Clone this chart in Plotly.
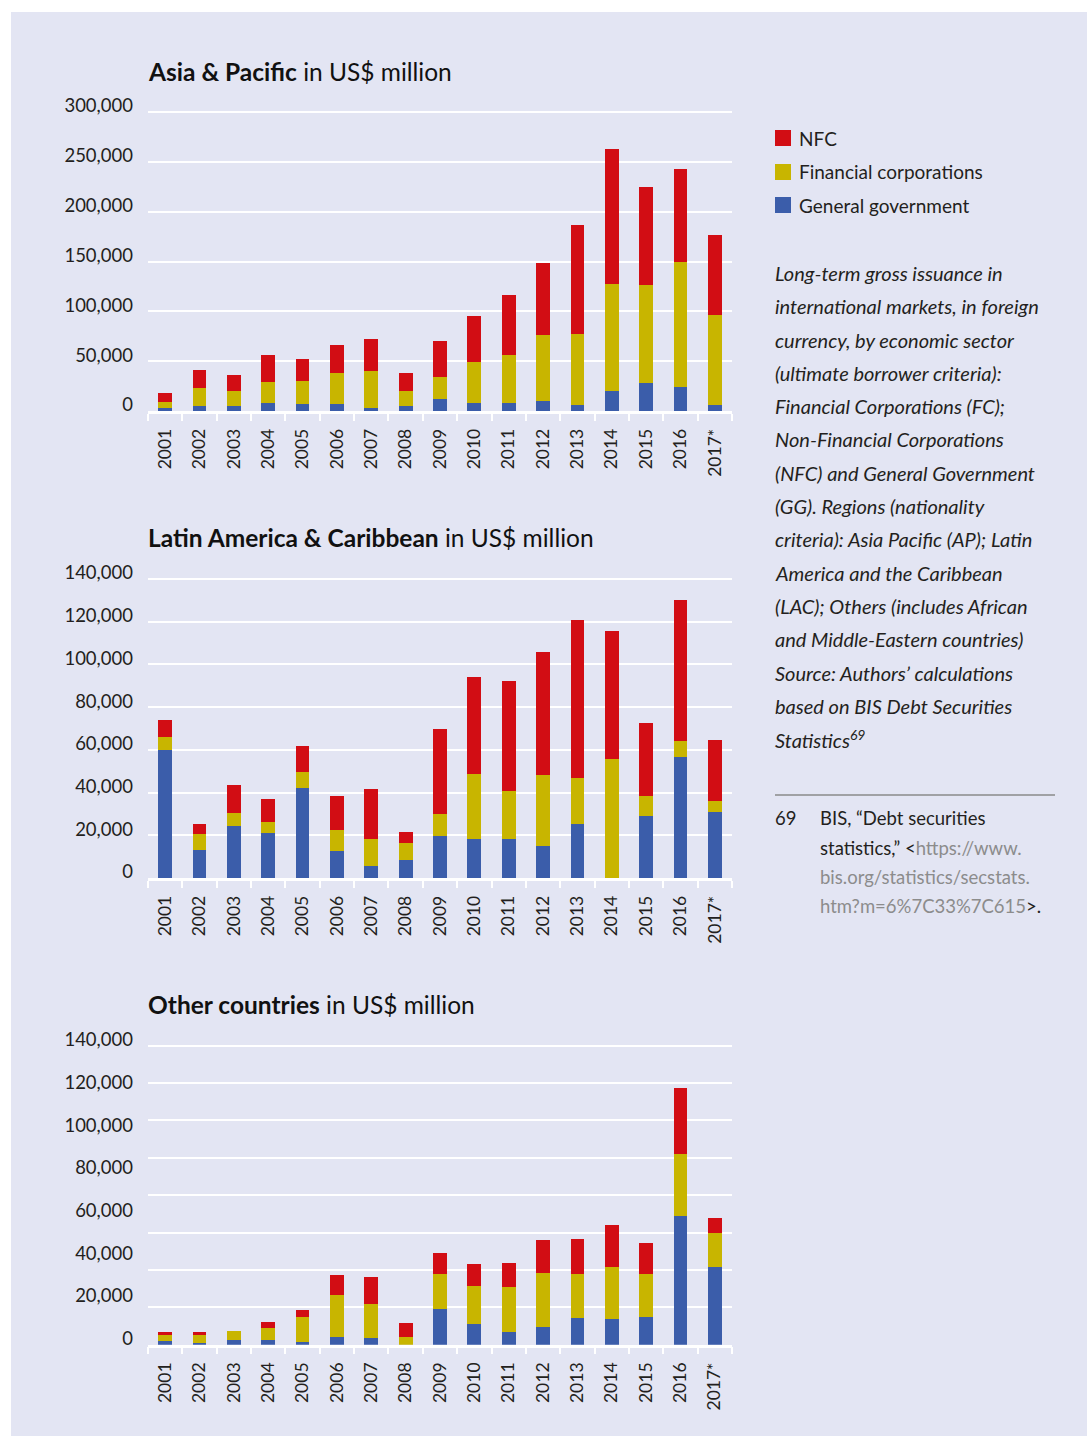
import plotly.graph_objects as go

W, H = 1087, 1436

years = ["2001", "2002", "2003", "2004", "2005", "2006", "2007", "2008", "2009",
         "2010", "2011", "2012", "2013", "2014", "2015", "2016", "2017*"]

series_names = ["General government", "Financial corporations", "NFC"]
series_colors = ["#3B5DAA", "#C8B500", "#D20D14"]

# Asia & Pacific (US$ million)
ap_gg = [3000, 5000, 5000, 8000, 7000, 7000, 3000, 5000, 12000, 8000, 8000, 10000, 6000, 20000, 28000, 24000, 6000]
ap_fc = [6000, 18000, 15000, 21000, 23000, 31000, 37000, 15000, 22000, 41000, 48000, 66000, 71000, 107000, 98000, 126000, 90000]
ap_nfc = [9000, 18000, 16000, 27000, 22000, 28000, 32000, 18000, 36000, 46000, 60000, 72000, 110000, 136000, 99000, 93000, 81000]

# Latin America & Caribbean (US$ million)
lac_gg = [60000, 13250, 24500, 21200, 42250, 12800, 5800, 8600, 19800, 18400, 18400, 15100, 25400, 0, 29150, 56750, 31000]
lac_fc = [6100, 7450, 6100, 5150, 7450, 9800, 12600, 7900, 10300, 30400, 22400, 33200, 21500, 55800, 9350, 7450, 5200]
lac_nfc = [7900, 4700, 13050, 10750, 12200, 15900, 23400, 5200, 39750, 45400, 51500, 57600, 73900, 59900, 34150, 66000, 28500]

# Other countries (US$ million)
oth_gg = [2000, 900, 2500, 2500, 1400, 4100, 3600, 0, 19100, 11100, 6800, 9500, 14300, 13700, 14800, 68900, 41600]
oth_fc = [3200, 4300, 4800, 6400, 13400, 22500, 18200, 4100, 18700, 20300, 24100, 28900, 23500, 27700, 23000, 33100, 18200]
oth_nfc = [1600, 1600, 0, 3200, 3750, 10700, 14400, 7500, 11300, 11800, 12800, 17600, 18700, 22400, 16600, 35400, 8000]

# axis tick labels / gridlines
ap_ticks = [0, 50000, 100000, 150000, 200000, 250000, 300000]
lac_ticks = [0, 20000, 40000, 60000, 80000, 100000, 120000, 140000]
oth_tick_labels = [0, 20000, 40000, 60000, 80000, 100000, 120000, 140000]
oth_grid = [0, 20000, 40000, 60000, 80000, 100000, 120000, 140000, 160000]

titles = ["Asia & Pacific", "Latin America & Caribbean", "Other countries"]

note_lines = [
    "Long-term gross issuance in",
    "international markets, in foreign",
    "currency, by economic sector",
    "(ultimate borrower criteria):",
    "Financial Corporations (FC);",
    "Non-Financial Corporations",
    "(NFC) and General Government",
    "(GG). Regions (nationality",
    "criteria): Asia Pacific (AP); Latin",
    "America and the Caribbean",
    "(LAC); Others (includes African",
    "and Middle-Eastern countries)",
    "Source: Authors\u2019 calculations",
    "based on BIS Debt Securities",
    "Statistics<sup>69</sup>",
]

FONT = "Lato"
TXT = "#231F20"
BG = "#E3E5F3"


def px_x(x):
    return x / W


def px_y(y):
    return 1 - y / H


fig = go.Figure()

panels = [
    ("x", "y", [ap_gg, ap_fc, ap_nfc]),
    ("x2", "y2", [lac_gg, lac_fc, lac_nfc]),
    ("x3", "y3", [oth_gg, oth_fc, oth_nfc]),
]
for xa, ya, data in panels:
    for name, color, vals in zip(series_names, series_colors, data):
        fig.add_trace(go.Bar(x=years, y=vals, name=name, marker=dict(color=color, line=dict(width=0)),
                             xaxis=xa, yaxis=ya, showlegend=False, hoverinfo="x+y+name"))

xdom = [px_x(148), px_x(732)]
PAD = 3  # extra pixels above the top gridline so it is drawn


def yspec(base_px, top_px, top_val):
    dom = [px_y(base_px), px_y(top_px - PAD)]
    rng = [0, top_val * (base_px - (top_px - PAD)) / (base_px - top_px)]
    return dom, rng


xcommon = dict(type="category", domain=xdom, showgrid=False, showline=True, linecolor="white",
               linewidth=2.5, ticks="outside", tickson="boundaries", ticklen=7, tickwidth=2,
               tickcolor="white", tickangle=-90, tickfont=dict(family=FONT, size=17.5, color=TXT),
               ticklabelstandoff=8, zeroline=False, fixedrange=True)
ycommon = dict(showline=False, zeroline=False, ticks="", tickfont=dict(family=FONT, size=18.5, color=TXT),
               gridcolor="white", gridwidth=2, ticklabelshift=-6, ticklabelstandoff=14, fixedrange=True)

layout = dict(
    width=W, height=H, margin=dict(l=0, r=0, t=0, b=0, autoexpand=False),
    paper_bgcolor="white", plot_bgcolor="rgba(0,0,0,0)",
    barmode="stack", bargap=0.6, showlegend=False,
    font=dict(family=FONT, color=TXT),
)
layout["xaxis"] = dict(xcommon, anchor="y")
layout["xaxis2"] = dict(xcommon, anchor="y2")
layout["xaxis3"] = dict(xcommon, anchor="y3")

d1, r1 = yspec(411, 112, 300000)
d2, r2 = yspec(878, 579, 140000)
d3, r3 = yspec(1344.7, 1045.7, 160000)
layout["yaxis"] = dict(ycommon, domain=d1, anchor="x", range=r1,
                       tickvals=ap_ticks, ticktext=[f"{v:,}" for v in ap_ticks], showgrid=True)
layout["yaxis2"] = dict(ycommon, domain=d2, anchor="x2", range=r2,
                        tickvals=lac_ticks, ticktext=[f"{v:,}" for v in lac_ticks], showgrid=True)
# Other countries: gridlines every 20,000 up to 160,000; printed labels 0..140,000 spread over same height
layout["yaxis3"] = dict(ycommon, domain=d3, anchor="x3", range=r3,
                        tickvals=[v * 160000 / 140000 for v in oth_tick_labels],
                        ticktext=[f"{v:,}" for v in oth_tick_labels], showgrid=False,
                        minor=dict(tickvals=oth_grid, showgrid=True, gridcolor="white", gridwidth=2, ticks=""))

shapes = [
    dict(type="rect", xref="paper", yref="paper", x0=px_x(11), x1=1, y0=0, y1=px_y(12),
         fillcolor=BG, line=dict(width=0), layer="below"),
    dict(type="line", xref="paper", yref="paper", x0=px_x(775), x1=px_x(1055), y0=px_y(795), y1=px_y(795),
         line=dict(color="#8A8A8A", width=1.5)),
]

annotations = []
title_y = [71, 537, 1004]
for bold, ty in zip(titles, title_y):
    annotations.append(dict(xref="paper", yref="paper", x=px_x(146), y=px_y(ty), xanchor="left", yanchor="middle",
                            text=f"<b>{bold}</b> in US$ million", showarrow=False,
                            font=dict(family=FONT, size=24.5, color="#111111")))

# legend (top to bottom: NFC, FC, GG)
leg_y = [138, 172, 205]
for name, color, ly in zip(series_names[::-1], series_colors[::-1], leg_y):
    shapes.append(dict(type="rect", xref="paper", yref="paper", x0=px_x(775), x1=px_x(791),
                       y0=px_y(ly + 8), y1=px_y(ly - 8), fillcolor=color, line=dict(width=0)))
    annotations.append(dict(xref="paper", yref="paper", x=px_x(797), y=px_y(ly), xanchor="left", yanchor="middle",
                            text=name, showarrow=False, font=dict(family=FONT, size=19, color=TXT)))

for i, line in enumerate(note_lines):
    annotations.append(dict(xref="paper", yref="paper", x=px_x(773), y=px_y(273 + 33.3 * i), xanchor="left",
                            yanchor="middle", text=f"<i>{line}</i>", showarrow=False,
                            font=dict(family=FONT, size=20, color=TXT)))

GRAY = "#8C8C8C"
foot = [
    "BIS, \u201cDebt securities",
    f"statistics,\u201d &lt;<span style='color:{GRAY}'>https://www.</span>",
    f"<span style='color:{GRAY}'>bis.org/statistics/secstats.</span>",
    f"<span style='color:{GRAY}'>htm?m=6%7C33%7C615</span>&gt;.",
]
foot_y = [818, 848, 877, 906]
annotations.append(dict(xref="paper", yref="paper", x=px_x(773), y=px_y(818), xanchor="left", yanchor="middle",
                        text="69", showarrow=False, font=dict(family=FONT, size=18.5, color=TXT)))
for t, fy in zip(foot, foot_y):
    annotations.append(dict(xref="paper", yref="paper", x=px_x(818), y=px_y(fy), xanchor="left", yanchor="middle",
                            text=t, showarrow=False, font=dict(family=FONT, size=18.5, color=TXT)))

layout["shapes"] = shapes
layout["annotations"] = annotations
fig.update_layout(**layout)

fig.write_html("out.html", config={"displayModeBar": False},
               post_script="document.documentElement.style.margin='0';document.body.style.margin='0';")
